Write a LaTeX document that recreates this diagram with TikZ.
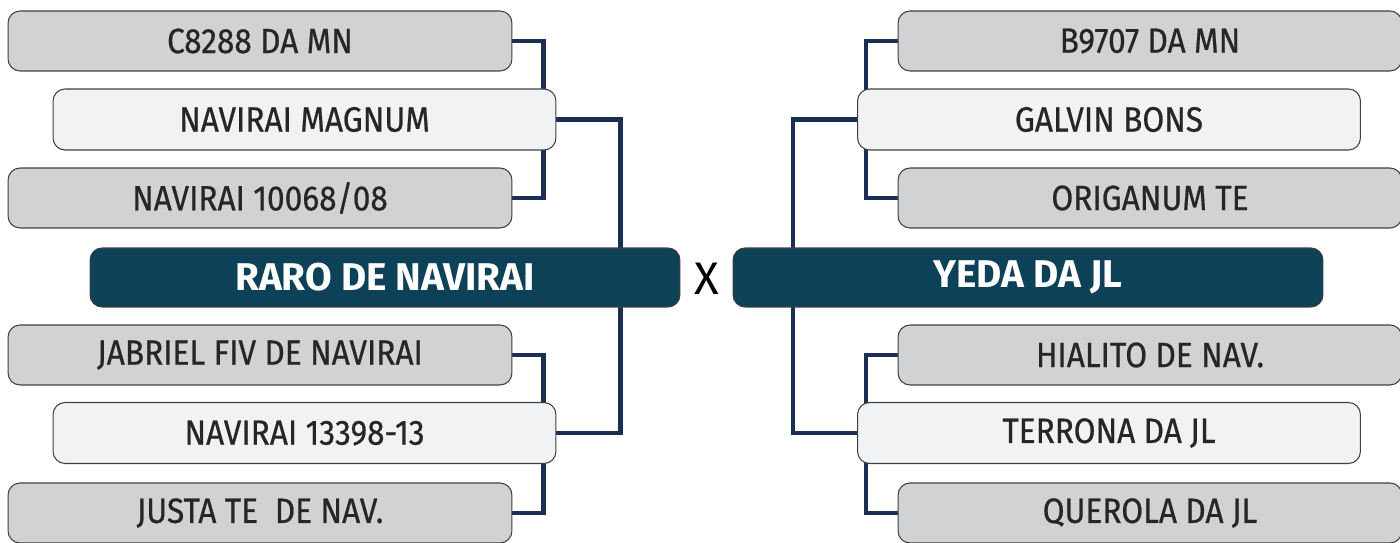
\documentclass[tikz,border=0pt]{standalone}
\usepackage{fontspec}
\setmainfont{Fira Sans}[FakeStretch=0.9, FakeBold=0.6]
\newfontfamily\mainname{Fira Sans}[FakeStretch=1.0]
\usepackage{tikz}
\usetikzlibrary{backgrounds}
\usetikzlibrary{positioning}

\definecolor{sirefill}{HTML}{D1D2D4}
\definecolor{damfill}{HTML}{F1F2F4}
\definecolor{mainfill}{HTML}{0C4157}
\definecolor{linkblue}{HTML}{1B2F55}

\tikzset{
  animal/.style={rectangle, rounded corners=0.24cm, draw=black!75, line width=0.6pt, text=black!85, font=\fontsize{20}{24}\selectfont},
  sire/.style={animal, fill=sirefill, minimum width=10.08cm, minimum height=1.2cm},
  dam/.style={animal, fill=damfill, minimum width=10.06cm, minimum height=1.22cm},
  mainbox/.style={animal, fill=mainfill, text=white, minimum width=11.8cm, minimum height=1.18cm, font=\mainname\fontsize{22}{26}\bfseries\selectfont},
  link/.style={draw=linkblue, line width=2.3pt}
}

\begin{document}
\begin{tikzpicture}[x=0.02cm, y=-0.02cm]
        \useasboundingbox (0,0) rectangle (1400,543);
        % left side
        \node (c8288) [sire] at (260,41) {C8288 DA MN};
        \node (magnum) [dam] at (304.5,119.5) {NAVIRAI MAGNUM};
        \node (n10068) [sire] at (260,198) {NAVIRAI 10068/08};
        \node (raro) [mainbox] at (385,277.5) {RARO DE NAVIRAI};
        \node (jabriel) [sire] at (260,355) {JABRIEL FIV DE NAVIRAI};
        \node (n13398) [dam] at (304.5,433) {NAVIRAI 13398-13};
        \node (justa) [sire] at (260,513) {JUSTA TE\ \ DE NAV.};
        \node (versus) at (707,279) {\mainname\fontsize{26}{30}\selectfont X};
        % right side
        \node (yeda) [mainbox] at (1028,277.5) {YEDA DA JL};
        \node (b9707) [sire] at (1150,41) {B9707 DA MN};
        \node (galvin) [dam] at (1109,119.5) {GALVIN BONS};
        \node (origanum) [sire] at (1150,198) {ORIGANUM TE};
        \node (hialito) [sire] at (1150,355) {HIALITO DE NAV.};
        \node (terrona) [dam] at (1109,433) {TERRONA DA JL};
        \node (querola) [sire] at (1150,513) {QUEROLA DA JL};
        \begin{scope}[on background layer]
        \draw [link] (c8288.east) -- ++(31,0) |- (n10068.east);
        \draw [link] (jabriel.east) -- ++(31,0) |- (justa.east);
        \draw [link] (magnum.east) -- ++(64,0) |- (n13398.east);
        \draw [link] (b9707.west) -- ++(-32,0) |- (origanum.west);
        \draw [link] (hialito.west) -- ++(-32,0) |- (querola.west);
        \draw [link] (galvin.west) -- ++(-64,0) |- (terrona.west);
        \end{scope}
\end{tikzpicture}
\end{document}
